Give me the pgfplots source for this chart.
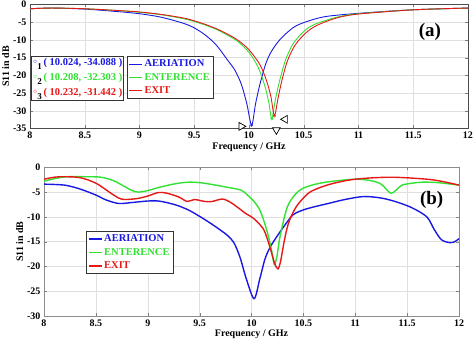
\documentclass[border=0pt]{standalone}
\usepackage{pgfplots}
\pgfplotsset{compat=1.18}
\usepackage{fontspec}
\setmainfont{Liberation Serif}
\definecolor{cb}{RGB}{25,25,225}
\definecolor{cg}{RGB}{50,225,50}
\definecolor{cr}{RGB}{230,25,25}
\pgfplotsset{mystyle/.style={scale only axis, xmin=8, xmax=12,
  grid=major, grid style={gray!25, line width=0.4pt},
  tick align=inside, major tick length=3pt,
  /pgf/number format/assume math mode=true,
  tick label style={font=\fontsize{10}{12}\selectfont\bfseries},
  label style={font=\fontsize{10}{12}\selectfont\bfseries},
  xtick={8,8.5,9,9.5,10,10.5,11,11.5,12},
  xticklabels={8,8.5,9,9.5,10,10.5,11,11.5,12},
  xlabel={Frequency / GHz}, ylabel={S11 in dB},
  xlabel style={yshift=3pt}, ylabel style={yshift=-3pt},
  legend cell align=left,
  legend image code/.code={\draw[##1] (0pt,0pt) -- (13pt,0pt);},
  legend style={font=\fontsize{10.5}{12}\selectfont\bfseries, draw=black!80, line width=0.8pt, inner sep=1.5pt, row sep=1pt},
}}
\begin{document}
\begin{tikzpicture}
\begin{axis}[mystyle, width=438pt, height=124pt, ymin=-35, ymax=0,
  ytick={0,-5,-10,-15,-20,-25,-30,-35},
  clip=false,
  legend style={at={(0.221,0.585)}, anchor=north west},
  axis line style={black!70}]
\addplot[cb, line width=0.9pt, smooth] coordinates {
(8.0,-1.2)(8.2,-1.0)(8.5,-1.3)(8.8,-2.0)(9.0,-2.6)(9.2,-3.6)(9.4,-5.3)(9.5,-6.6)(9.6,-8.6)(9.7,-11.4)(9.8,-15.5)(9.87,-18.5)(9.93,-22.5)(9.98,-28)(10.024,-34.088)
(10.06,-28)(10.1,-22.5)(10.15,-17)(10.2,-13.5)(10.28,-10)(10.4,-6.6)(10.51,-5)(10.7,-3.4)(11.04,-2.4)(11.5,-1.5)(12,-1.0)};
\addlegendentry{\textcolor{cb}{AERIATION}}
\addplot[cg, line width=0.9pt, smooth] coordinates {
(8.0,-1.2)(8.2,-1.0)(8.5,-1.2)(8.8,-1.7)(9.0,-2.2)(9.2,-2.9)(9.4,-4.0)(9.5,-4.8)(9.6,-5.8)(9.7,-7.0)(9.8,-8.6)(9.9,-10.5)(10.0,-13.5)(10.08,-17.5)(10.14,-22.5)(10.18,-27.5)(10.208,-32.303)
(10.24,-27)(10.28,-21.5)(10.33,-16)(10.4,-11.2)(10.5,-7.6)(10.6,-5.6)(10.8,-3.6)(11.0,-2.6)(11.5,-1.5)(12,-1.0)};
\addlegendentry{\textcolor{cg}{ENTERENCE}}
\addplot[cr, line width=0.9pt, smooth] coordinates {
(8.0,-1.2)(8.2,-1.0)(8.5,-1.2)(8.8,-1.7)(9.0,-2.1)(9.2,-2.8)(9.4,-3.8)(9.5,-4.6)(9.6,-5.6)(9.7,-6.8)(9.8,-8.3)(9.9,-10.1)(10.0,-12.8)(10.1,-17)(10.16,-21.5)(10.2,-26)(10.232,-31.442)
(10.265,-26.5)(10.3,-21.5)(10.35,-16)(10.42,-11.5)(10.52,-8)(10.62,-5.9)(10.8,-3.8)(11.0,-2.7)(11.5,-1.5)(12,-1.0)};
\addlegendentry{\textcolor{cr}{EXIT}}
\addplot[cb, only marks, mark=o, mark size=1.3pt, forget plot] coordinates {(10.024,-34.088)};
\addplot[cg, only marks, mark=o, mark size=1.3pt, forget plot] coordinates {(10.208,-32.303)};
\addplot[cr, only marks, mark=o, mark size=1.3pt, forget plot] coordinates {(10.232,-31.442)};
\addplot[black, only marks, mark=triangle*, mark size=4.5pt, mark options={fill=white, rotate=-90, line width=0.7pt}, forget plot] coordinates {(9.93,-34.4)};
\addplot[black, only marks, mark=triangle*, mark size=4.5pt, mark options={fill=white, rotate=180, line width=0.7pt}, forget plot] coordinates {(10.25,-35.4)};
\addplot[black, only marks, mark=triangle*, mark size=4.5pt, mark options={fill=white, rotate=90, line width=0.7pt}, forget plot] coordinates {(10.33,-32.4)};
\node[draw=black!80, line width=0.8pt, fill=white, anchor=north west, align=left, inner sep=1.5pt,
  font=\fontsize{10.5}{15}\selectfont\bfseries] at (rel axis cs:0.003,0.585)
  {\textcolor{cb}{\raisebox{2pt}{\scriptsize$\circ$}}\raisebox{-4pt}{\small 1}\,\textcolor{cb}{(\ 10.024,\ -34.088\ )}\\
   \textcolor{cg}{\raisebox{2pt}{\scriptsize$\circ$}}\raisebox{-4pt}{\small 2}\,\textcolor{cg}{(\ 10.208,\ -32.303\ )}\\
   \textcolor{cr}{\raisebox{2pt}{\scriptsize$\circ$}}\raisebox{-4pt}{\small 3}\,\textcolor{cr}{(\ 10.232,\ -31.442\ )}};
\node[font=\fontsize{19}{22}\selectfont\bfseries] at (rel axis cs:0.913,0.78) {(a)};
\end{axis}
\begin{axis}[mystyle, at={(14pt,-187.5pt)}, width=415pt, height=148.7pt, ymin=-30, ymax=0,
  ytick={0,-5,-10,-15,-20,-25,-30},
  legend style={at={(0.101,0.572)}, anchor=north west},
  axis line style={black!45}]
\addplot[cb, line width=1.4pt, smooth] coordinates {
(8.0,-3.4)(8.2,-3.6)(8.35,-4.4)(8.5,-5.6)(8.6,-6.6)(8.72,-7.3)(8.85,-7.1)(9.0,-6.8)(9.1,-6.8)(9.2,-7.2)(9.3,-7.8)(9.4,-8.7)(9.5,-9.9)(9.62,-11.5)(9.76,-13.6)(9.83,-15.2)(9.89,-18.2)(9.95,-22.5)(10.025,-26.5)
(10.08,-22.5)(10.13,-18.5)(10.18,-16.1)(10.25,-13.8)(10.31,-12)(10.4,-9.6)(10.5,-8.6)(10.6,-8.0)(10.76,-7.2)(10.9,-6.5)(11.08,-5.9)(11.25,-6.2)(11.4,-7.0)(11.55,-8.2)(11.69,-10)(11.76,-12.5)(11.83,-14.6)(11.91,-15.2)(11.96,-15.0)(12.0,-14.4)};
\addlegendentry{\textcolor{cb}{AERIATION}}
\addplot[cg, line width=1.4pt, smooth] coordinates {
(8.0,-2.8)(8.1,-2.3)(8.22,-1.9)(8.4,-1.9)(8.55,-2.0)(8.67,-2.7)(8.77,-3.8)(8.85,-4.7)(8.91,-5.0)(9.0,-4.7)(9.1,-4.1)(9.2,-3.6)(9.3,-3.2)(9.4,-3.0)(9.5,-3.1)(9.6,-3.4)(9.76,-4.0)(9.9,-4.6)(9.95,-5.4)(10.02,-6.8)(10.08,-8.6)(10.13,-11.5)(10.17,-14.5)(10.2,-17.5)(10.22,-19.6)
(10.245,-18)(10.27,-14.5)(10.3,-11.6)(10.33,-9)(10.36,-7.3)(10.42,-5.5)(10.49,-4.3)(10.6,-3.5)(10.75,-2.9)(11.0,-2.4)(11.15,-2.7)(11.25,-3.4)(11.34,-5.2)(11.4,-4.5)(11.45,-3.6)(11.55,-3.2)(11.65,-3.0)(11.8,-3.1)(12.0,-3.6)};
\addlegendentry{\textcolor{cg}{ENTERENCE}}
\addplot[cr, line width=1.4pt, smooth] coordinates {
(8.0,-2.4)(8.1,-2.0)(8.2,-1.9)(8.35,-2.1)(8.5,-3.2)(8.65,-5.3)(8.72,-6.2)(8.78,-6.5)(8.9,-6.3)(9.0,-5.8)(9.1,-5.1)(9.18,-5.2)(9.3,-6.0)(9.38,-6.9)(9.45,-6.5)(9.55,-6.9)(9.62,-6.9)(9.72,-6.4)(9.8,-7.1)(9.88,-8.3)(9.95,-9.4)(10.02,-10.3)(10.11,-12.3)(10.15,-14.3)(10.19,-17)(10.225,-19.5)(10.255,-20.5)
(10.28,-19)(10.31,-15.5)(10.34,-12.5)(10.37,-10.5)(10.43,-8.0)(10.5,-6.2)(10.58,-4.8)(10.76,-3.4)(11.0,-2.4)(11.34,-2.0)(11.69,-2.4)(11.85,-2.9)(12.0,-3.6)};
\addlegendentry{\textcolor{cr}{EXIT}}
\node[font=\fontsize{19}{22}\selectfont\bfseries] at (rel axis cs:0.934,0.78) {(b)};
\end{axis}
\pgfresetboundingbox
\path (-30pt,128.5pt) rectangle (444pt,-218.5pt);
\end{tikzpicture}
\end{document}
